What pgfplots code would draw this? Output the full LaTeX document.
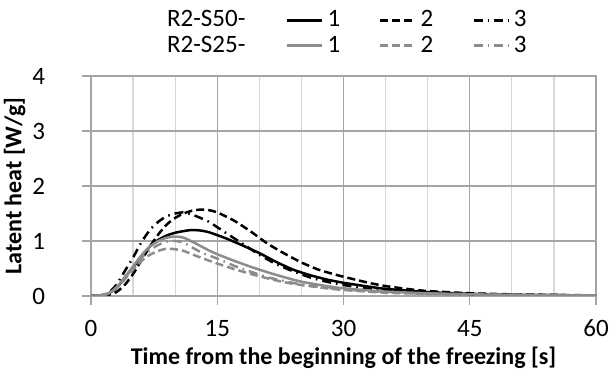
\documentclass[border=0pt]{standalone}
\usepackage{pgfplots}
\pgfplotsset{compat=1.18}
\usepackage{fontspec}
\setmainfont{Carlito}
\definecolor{sergray}{RGB}{140,140,140}
\definecolor{gridmaj}{RGB}{165,165,165}
\definecolor{gridmin}{RGB}{215,215,215}
\begin{document}
\begin{tikzpicture}[font=\fontsize{12.5}{14}\selectfont]
\begin{axis}[
 scale only axis, width=252.5pt, height=110pt,
 xmin=0, xmax=60, ymin=0, ymax=4,
 xtick={0,15,30,45,60}, ytick={0,1,2,3,4},
 minor xtick={5,10,20,25,35,40,50,55},
 grid=both,
 major grid style={draw=gridmaj, line width=0.6pt},
 minor grid style={draw=gridmin, line width=0.6pt},
 axis line style={draw=gridmaj, line width=0.6pt},
 tick align=outside, major tick length=4.5pt, minor tick length=0pt,
 every tick/.style={draw=gridmaj, line width=0.6pt},
 xtick pos=bottom, ytick pos=left,
 /pgf/number format/assume math mode=true,
 tick label style={font=\fontsize{12.5}{14}\selectfont},
 xticklabel style={yshift=-4pt},
 yticklabel style={xshift=-15pt},
 xlabel={Time from the beginning of the freezing [s]},
 ylabel={Latent heat [W/g]},
 label style={font=\fontsize{12}{14}\selectfont\bfseries},
 xlabel style={yshift=2pt},
 ylabel style={yshift=-3.5pt},
 legend columns=4,
 legend cell align=left,
 legend style={draw=none, fill=none, at={(0.13,1.335)}, anchor=north west,
   font=\fontsize{12.5}{14}\selectfont, row sep=-1pt,
   /tikz/column 2/.style={column sep=18.3pt},
   /tikz/column 4/.style={column sep=17.5pt},
   /tikz/column 6/.style={column sep=17.5pt}},
 legend image code/.code={\draw[#1] (0pt,0pt) -- (17.5pt,0pt);},
 every axis plot/.append style={line width=1.25pt, smooth, tension=0.4},
]
\addlegendimage{empty legend}
\addlegendentry{R2-S50-}
% R2-S50-1
\addplot[black] coordinates {(0,0) (1,0.01) (2,0.04) (3,0.14) (4,0.33) (5,0.52) (6,0.72) (7,0.9) (8,1.02) (9,1.1) (10,1.15) (11,1.18) (12,1.2) (13,1.19) (14,1.16) (16,1.05) (18,0.92) (20,0.78) (22,0.62) (24,0.48) (26,0.38) (28,0.3) (30,0.24) (33,0.17) (35,0.13) (40,0.07) (45,0.04) (50,0.02) (55,0.015) (60,0.01)};
\addlegendentry{1}
% R2-S50-2
\addplot[black, dash pattern=on 4pt off 2pt] coordinates {(0,0) (1,0.005) (2,0.02) (3,0.07) (4,0.2) (5,0.4) (6,0.65) (7,0.9) (8,1.12) (9,1.3) (10,1.42) (11,1.5) (12,1.55) (13,1.57) (14,1.56) (15,1.52) (17,1.37) (19,1.17) (21,0.95) (23,0.77) (25,0.61) (27,0.48) (29,0.39) (30,0.35) (33,0.24) (35,0.18) (38,0.12) (40,0.09) (45,0.05) (50,0.03) (55,0.02) (60,0.01)};
\addlegendentry{2}
% R2-S50-3
\addplot[black, dash pattern=on 4.5pt off 2.5pt on 0.8pt off 2.5pt] coordinates {(0,0) (1,0.01) (2,0.05) (3,0.2) (4,0.45) (5,0.7) (6,0.98) (7,1.2) (8,1.35) (9,1.45) (10,1.5) (11,1.52) (12,1.48) (13,1.42) (14,1.35) (16,1.15) (18,0.95) (20,0.75) (22,0.58) (24,0.45) (26,0.34) (28,0.26) (30,0.2) (33,0.13) (35,0.1) (40,0.05) (45,0.03) (50,0.02) (55,0.015) (60,0.01)};
\addlegendentry{3}
\addlegendimage{empty legend}
\addlegendentry{R2-S25-}
% R2-S25-1
\addplot[sergray] coordinates {(0,0) (1,0.01) (2,0.04) (3,0.15) (4,0.34) (5,0.54) (6,0.74) (7,0.9) (8,1.0) (9,1.06) (10,1.08) (11,1.06) (12,0.99) (13,0.91) (14,0.83) (15,0.76) (17,0.64) (19,0.53) (21,0.43) (23,0.34) (25,0.26) (28,0.18) (30,0.14) (35,0.08) (40,0.05) (45,0.03) (50,0.02) (55,0.015) (60,0.01)};
\addlegendentry{1}
% R2-S25-2
\addplot[sergray, dash pattern=on 4pt off 2pt] coordinates {(0,0) (1,0.01) (2,0.04) (3,0.14) (4,0.3) (5,0.48) (6,0.64) (7,0.75) (8,0.82) (9,0.86) (10,0.85) (11,0.82) (13,0.7) (15,0.59) (17,0.49) (19,0.4) (21,0.32) (23,0.25) (25,0.2) (28,0.14) (30,0.11) (35,0.06) (40,0.04) (45,0.03) (50,0.02) (55,0.015) (60,0.01)};
\addlegendentry{2}
% R2-S25-3
\addplot[sergray, dash pattern=on 4.5pt off 2.5pt on 0.8pt off 2.5pt] coordinates {(0,0) (1,0.01) (2,0.04) (3,0.15) (4,0.33) (5,0.52) (6,0.7) (7,0.83) (8,0.93) (9,0.99) (10,1.0) (11,0.97) (13,0.8) (15,0.68) (17,0.55) (19,0.44) (21,0.34) (23,0.27) (25,0.21) (28,0.15) (30,0.12) (35,0.07) (40,0.04) (45,0.03) (50,0.02) (55,0.015) (60,0.01)};
\addlegendentry{3}
\end{axis}
\pgfresetboundingbox
\path ([xshift=-45.5pt,yshift=-43pt]current axis.south west) rectangle ([xshift=7.5pt,yshift=38pt]current axis.north east);
\end{tikzpicture}
\end{document}
